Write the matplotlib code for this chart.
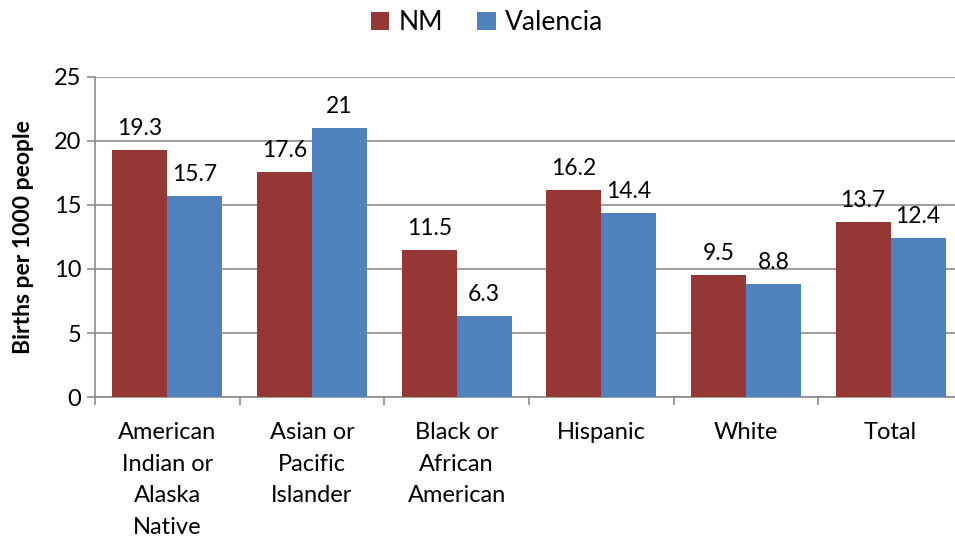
import matplotlib.pyplot as plt
import numpy as np

plt.rcParams['font.family'] = ['Lato', 'DejaVu Sans']

categories = ['American\nIndian or\nAlaska\nNative', 'Asian or\nPacific\nIslander',
              'Black or\nAfrican\nAmerican', 'Hispanic', 'White', 'Total']
nm = [19.3, 17.6, 11.5, 16.2, 9.5, 13.7]
valencia = [15.7, 21, 6.3, 14.4, 8.8, 12.4]
nm_labels = ['19.3', '17.6', '11.5', '16.2', '9.5', '13.7']
val_labels = ['15.7', '21', '6.3', '14.4', '8.8', '12.4']

red = '#953735'
blue = '#4F81BD'
grid = '#8C8C8C'

fig = plt.figure(figsize=(9.55, 5.42), dpi=100)
ax = fig.add_axes([0.0995, 0.2675, 0.9005, 0.5905])

x = np.arange(len(categories))
w = 0.38
b1 = ax.bar(x - w / 2, nm, w, color=red, label='NM', zorder=3)
b2 = ax.bar(x + w / 2, valencia, w, color=blue, label='Valencia', zorder=3)

# value labels above each bar
for rect, lab in zip(b1, nm_labels):
    ax.annotate(lab, (rect.get_x() + rect.get_width() / 2, rect.get_height()),
                xytext=(0, 8), textcoords='offset points', ha='center', va='bottom', fontsize=16.5)
for rect, lab in zip(b2, val_labels):
    ax.annotate(lab, (rect.get_x() + rect.get_width() / 2, rect.get_height()),
                xytext=(0, 8), textcoords='offset points', ha='center', va='bottom', fontsize=16.5)

ax.set_ylim(0, 25)
ax.set_yticks(range(0, 26, 5))
ax.set_xlim(-0.5, 5.445)
ax.yaxis.grid(True, color=grid, linewidth=1.2, zorder=0)

ax.set_xticks(x)
ax.set_xticklabels(categories, fontsize=17, linespacing=1.63)
ax.set_xticks(np.arange(-0.5, 5.5, 1), minor=True)
ax.tick_params(axis='x', which='major', length=0, pad=18)
ax.tick_params(axis='x', which='minor', length=6, color=grid, width=1.2)
ax.tick_params(axis='y', labelsize=17, length=6, color=grid, width=1.2, pad=4)

for s in ['top', 'right']:
    ax.spines[s].set_visible(False)
for s in ['left', 'bottom']:
    ax.spines[s].set_color(grid)
    ax.spines[s].set_linewidth(1.2)

ax.set_ylabel('Births per 1000 people', fontsize=16.5, fontweight='bold', labelpad=14)

fig.legend(handles=[b1, b2], loc='upper center', bbox_to_anchor=(0.51, 1.025), ncol=2,
           frameon=False, fontsize=19, handlelength=0.7, handleheight=0.7,
           handletextpad=0.35, columnspacing=1.3)

fig.savefig('out.png', dpi=100)
